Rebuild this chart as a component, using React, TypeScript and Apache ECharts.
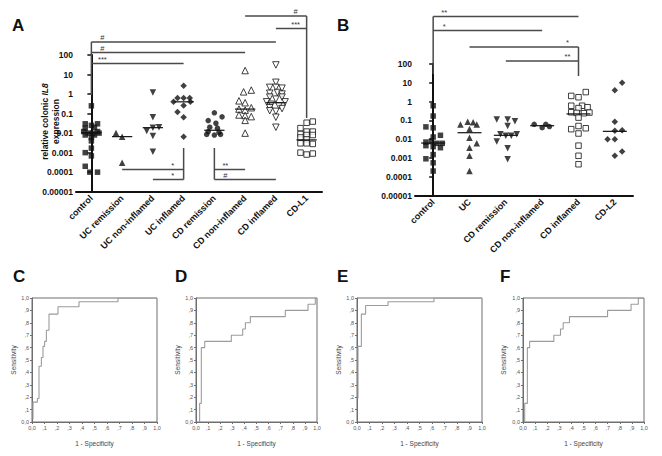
import React, { useEffect, useRef } from 'react';
import * as echarts from 'echarts';

// ---------- categories & tick labels ----------
const catsA = ['control', 'UC remission', 'UC non-inflamed', 'UC inflamed', 'CD remission', 'CD non-inflamed', 'CD inflamed', 'CD-L1'];
const catsB = ['control', 'UC', 'CD remission', 'CD non-inflamed', 'CD inflamed', 'CD-L2'];
const logTickLabels = ['0.00001', '0.0001', '0.001', '0.01', '0.1', '1', '10', '100'];
const rocTickLabels = ['0,0', ',1', ',2', ',3', ',4', ',5', ',6', ',7', ',8', ',9', '1,0'];

// ---------- Panel A: [offset within category, relative IL8 expression] ----------
const aControl = [[0, 0.25], [-0.2, 0.03], [0.2, 0.03], [0, 0.025], [-0.2, 0.018], [0.1, 0.02], [-0.25, 0.012], [0.2, 0.012], [-0.1, 0.01], [0.05, 0.01], [0.25, 0.01], [-0.2, 0.008], [0.1, 0.008], [0, 0.006], [0, 0.004], [0, 0.0017], [-0.2, 0.001], [0, 0.00068], [-0.2, 0.0002], [-0.05, 0.0001], [0.2, 0.0001]];
const aUCrem = [[-0.2, 0.01], [0, 0.0066], [0, 0.0003]];
const aUCnon = [[0, 1.2], [0, 0.064], [-0.2, 0.013], [0, 0.019], [0.2, 0.02], [0, 0.0071], [0, 0.0011]];
const aUCinf = [[0, 2.7], [-0.2, 0.62], [0, 0.62], [0.2, 0.62], [-0.33, 0.4], [0.22, 0.4], [0, 0.26], [-0.2, 0.12], [0, 0.065], [0, 0.0066]];
const aCDrem = [[0, 0.11], [0.25, 0.068], [-0.2, 0.044], [0.05, 0.032], [-0.15, 0.02], [0.1, 0.018], [-0.2, 0.012], [0.15, 0.011], [-0.25, 0.0085], [0, 0.008], [0.2, 0.0085]];
const aCDnon = [[0, 16], [-0.05, 1.3], [0.2, 1.6], [-0.2, 0.45], [0, 0.36], [0.2, 0.2], [-0.2, 0.17], [0, 0.15], [-0.2, 0.085], [0, 0.08], [0.2, 0.07], [0, 0.045], [0, 0.01]];
const aCDinf = [[0, 31], [0, 4], [-0.2, 2.2], [0, 2.2], [0.2, 2.0], [-0.2, 1.1], [0.05, 1.2], [0.2, 1.0], [-0.2, 0.7], [0.2, 0.7], [0, 0.55], [-0.3, 0.4], [0.3, 0.4], [-0.15, 0.3], [0.1, 0.25], [-0.2, 0.2], [0.2, 0.18], [0, 0.13], [-0.2, 0.14], [0, 0.065], [0, 0.02]];
const aCDL1 = [[0, 0.034], [0.2, 0.039], [-0.2, 0.018], [0, 0.012], [0.2, 0.012], [-0.2, 0.009], [0, 0.008], [0.2, 0.008], [-0.2, 0.006], [0, 0.0048], [-0.2, 0.003], [0, 0.003], [0.2, 0.0028], [-0.2, 0.001], [0, 0.0008], [0.2, 0.0009]];
const mediansA = [0.0105, 0.0066, 0.019, 0.4, 0.014, 0.17, 0.36, 0.0045];

// ---------- Panel B ----------
const bControl = [[0, 0.6], [0, 0.17], [-0.2, 0.045], [0, 0.04], [0.2, 0.016], [0, 0.013], [-0.2, 0.007], [-0.05, 0.0075], [0.1, 0.006], [0.25, 0.006], [-0.2, 0.0045], [0, 0.004], [0.2, 0.0035], [0, 0.0015], [-0.2, 0.0009], [0, 0.00055], [0, 0.0002]];
const bUC = [[-0.25, 0.06], [-0.05, 0.085], [0.1, 0.08], [0.2, 0.06], [0, 0.035], [0, 0.012], [0.2, 0.006], [0, 0.0035], [0, 0.0013], [0, 0.0002]];
const bCDrem = [[-0.25, 0.11], [0.05, 0.11], [0.25, 0.09], [0.05, 0.05], [-0.15, 0.018], [0, 0.015], [0.15, 0.015], [0.3, 0.018], [-0.25, 0.0075], [0.05, 0.0033], [0.05, 0.00085]];
const bCDnon = [[-0.22, 0.062], [0, 0.041], [0.1, 0.062], [0.2, 0.047]];
const bCDinf = [[0.2, 3.2], [-0.2, 2.0], [0, 1.7], [-0.2, 0.6], [0.1, 0.6], [0.25, 0.5], [0, 0.45], [-0.2, 0.27], [-0.05, 0.25], [0.15, 0.24], [0.3, 0.26], [0, 0.14], [-0.2, 0.034], [0, 0.05], [0.2, 0.038], [0, 0.02], [0, 0.0045], [0, 0.0013], [0, 0.00046]];
const bCDL2 = [[0.2, 10], [0, 4], [0, 0.085], [0, 0.028], [0.2, 0.03], [-0.2, 0.01], [0, 0.01], [0, 0.0013], [0.2, 0.0022]];
const mediansB = [0.0062, 0.022, 0.016, 0.052, 0.22, 0.026];

// ---------- ROC curves (1 - specificity, sensitivity) ----------
const rocC_fpr = [0.008, 0.008, 0.043, 0.056, 0.075, 0.088, 0.101, 0.115, 0.136, 0.208, 0.376, 0.688, 1.0];
const rocC_tpr = [0.02, 0.16, 0.19, 0.45, 0.52, 0.61, 0.65, 0.74, 0.87, 0.93, 0.97, 1.0, 1.0];
const rocD_fpr = [0.03, 0.03, 0.044, 0.072, 0.292, 0.386, 0.408, 0.449, 0.738, 0.926, 0.986, 1.0];
const rocD_tpr = [0.0, 0.15, 0.6, 0.65, 0.7, 0.75, 0.8, 0.85, 0.9, 0.95, 1.0, 1.0];
const rocE_fpr = [0.008, 0.008, 0.035, 0.069, 0.248, 0.616, 1.0];
const rocE_tpr = [0.19, 0.61, 0.87, 0.94, 0.97, 1.0, 1.0];
const rocF_fpr = [0.014, 0.014, 0.036, 0.055, 0.255, 0.31, 0.332, 0.384, 0.699, 0.893, 0.953, 1.0];
const rocF_tpr = [0.0, 0.15, 0.6, 0.65, 0.7, 0.75, 0.8, 0.85, 0.9, 0.95, 1.0, 1.0];

// ---------- significance annotations ----------
const sigA = [
  { from: 0, to: 6, y: 42, label: '#' },
  { from: 0, to: 5, y: 52.5, label: '#' },
  { from: 0, to: 3, y: 63.5, label: '***' },
  { from: 7, to: 5, y: 16, label: '#' },
  { from: 7, to: 6, y: 28.5, label: '***' },
  { from: 3, to: 1, y: 169.5, label: '*' },
  { from: 3, to: 2, y: 179.5, label: '*' },
  { from: 4, to: 5, y: 169.5, label: '**' },
  { from: 4, to: 6, y: 179.5, label: '#' },
];
const stemsA = [{ cat: 0, y1: 42, y2: 95 }, { cat: 7, y1: 16, y2: 118 }, { cat: 3, y1: 148, y2: 179.5 }, { cat: 4, y1: 148, y2: 179.5 }];
const sigB = [
  { from: 0, to: 4, y: 16.5, label: '**' },
  { from: 0, to: 3, y: 30.5, label: '*' },
  { from: 4, to: 1, y: 47, label: '*' },
  { from: 4, to: 2, y: 61, label: '**' },
];
const stemsB = [{ cat: 0, y1: 16.5, y2: 74 }, { cat: 4, y1: 47, y2: 76 }];

// ---------- layout / styles ----------
const FONT = 'Liberation Sans, Arial, Helvetica, sans-serif';
const gA = { left: 76, top: 55, width: 246, height: 136.7 };
const gB = { left: 415, top: 64, width: 218, height: 131.5 };
const gROC = [
  { left: 32, top: 298, width: 125, height: 124, nameGap: 15 },
  { left: 196, top: 298, width: 121, height: 124, nameGap: 14 },
  { left: 357, top: 298, width: 125, height: 124, nameGap: 14 },
  { left: 523, top: 298, width: 121, height: 124, nameGap: 16 },
];
const stylesA = [
  { symbol: 'rect', rot: 0, open: false, size: 5.5 },
  { symbol: 'triangle', rot: 0, open: false, size: 6.5 },
  { symbol: 'triangle', rot: 180, open: false, size: 6.5 },
  { symbol: 'diamond', rot: 0, open: false, size: 6.5 },
  { symbol: 'circle', rot: 0, open: false, size: 5.5 },
  { symbol: 'triangle', rot: 0, open: true, size: 6.5 },
  { symbol: 'triangle', rot: 180, open: true, size: 6.5 },
  { symbol: 'rect', rot: 0, open: true, size: 5.5 },
];
const stylesB = [
  { symbol: 'rect', rot: 0, open: false, size: 5.5 },
  { symbol: 'triangle', rot: 0, open: false, size: 6.5 },
  { symbol: 'triangle', rot: 180, open: false, size: 6.5 },
  { symbol: 'circle', rot: 0, open: false, size: 5.5 },
  { symbol: 'rect', rot: 0, open: true, size: 5.5 },
  { symbol: 'diamond', rot: 0, open: false, size: 6.5 },
];

const logFmt = (v: number) => logTickLabels[Math.round(Math.log10(v)) + 5] ?? '';
const rocFmt = (v: number) => rocTickLabels[Math.round(v * 10)] ?? '';
const catX = (g: any, n: number, i: number) => g.left + ((i + 0.5) * g.width) / n;

function dotSeries(groups: number[][][], styles: any[], xi: number, yi: number) {
  return groups.map((grp, i) => ({
    type: 'scatter',
    xAxisIndex: xi,
    yAxisIndex: yi,
    symbol: styles[i].symbol,
    symbolSize: styles[i].size,
    symbolRotate: styles[i].rot,
    itemStyle: styles[i].open ? { color: '#fff', borderColor: '#111', borderWidth: 1 } : { color: '#111' },
    data: grp.map(([o, v]) => [i + o, v]),
    z: 3,
  }));
}

function medianSeries(meds: number[], xi: number, yi: number) {
  return {
    type: 'custom',
    xAxisIndex: xi,
    yAxisIndex: yi,
    z: 4,
    data: meds.map((v, i) => [i, v]),
    renderItem: (_p: any, api: any) => {
      const i = api.value(0);
      const v = api.value(1);
      const a = api.coord([i - 0.33, v]);
      const b = api.coord([i + 0.33, v]);
      return { type: 'line', shape: { x1: a[0], y1: a[1], x2: b[0], y2: b[1] }, style: { stroke: '#111', lineWidth: 1.2 } };
    },
  };
}

function sigGraphics(sigs: any[], stems: any[], g: any, n: number) {
  const out: any[] = [];
  const line = (x1: number, y1: number, x2: number, y2: number) => ({
    type: 'line', shape: { x1, y1, x2, y2 }, style: { stroke: '#4a4a4a', lineWidth: 1.5 }, z: 10,
  });
  stems.forEach((s) => {
    const x = catX(g, n, s.cat);
    out.push(line(x, s.y1, x, s.y2));
  });
  sigs.forEach((s) => {
    const x1 = catX(g, n, s.from);
    const x2 = catX(g, n, s.to);
    out.push(line(x1, s.y, x2, s.y));
    const dir = Math.sign(x2 - x1);
    out.push({
      type: 'text', x: x1 + dir * 11, y: s.y - 0.5, z: 10,
      style: { text: s.label, fontSize: 7.5, fontFamily: FONT, fill: '#333', align: 'center', verticalAlign: 'bottom' },
    });
  });
  return out;
}

function letter(t: string, x: number, y: number) {
  return { type: 'text', x, y, style: { text: t, fontSize: 17, fontWeight: 'bold', fontFamily: FONT, fill: '#111', align: 'left', verticalAlign: 'middle' } };
}

// rotated y-axis title of panel A (plain text pieces, rotated 90° counter-clockwise)
function yTitleA() {
  const fs = 8.5;
  const base = { fontSize: fs, fontWeight: 'bold', fontFamily: FONT, fill: '#111', verticalAlign: 'middle' };
  const cx = 50.5;
  const cy = 121.5;
  const w1 = 7.559 * fs; // "relative colonic "
  const w2 = 1.445 * fs; // "IL8"
  const start = cy + (w1 + w2) / 2;
  return [
    { type: 'text', x: cx - 5.5, y: start, rotation: Math.PI / 2, z: 20, style: { ...base, text: 'relative colonic ', align: 'left' } },
    { type: 'text', x: cx - 5.5, y: start - w1, rotation: Math.PI / 2, z: 20, style: { ...base, text: 'IL8', fontStyle: 'italic', align: 'left' } },
    { type: 'text', x: cx + 5.5, y: cy, rotation: Math.PI / 2, z: 20, style: { ...base, text: 'expression', align: 'center' } },
  ];
}

export default function App() {
  const ref = useRef<HTMLDivElement>(null);
  useEffect(() => {
    if (!ref.current) return;
    const chart = echarts.init(ref.current, undefined, { renderer: 'svg' });

    const catAxis = (gi: number, data: string[]) => ({
      type: 'category', gridIndex: gi, data,
      axisLine: { lineStyle: { color: '#111', width: 2 } },
      axisTick: { show: false },
      axisLabel: { rotate: 45, interval: 0, fontSize: 9, fontWeight: 'bold', color: '#111', margin: 5, fontFamily: FONT },
      splitLine: { show: false },
    });
    const logAxis = (gi: number) => ({
      type: 'log', gridIndex: gi, logBase: 10, min: 0.00001, max: 100, splitNumber: 7,
      axisLine: { show: true, lineStyle: { color: '#111', width: 2 } },
      axisTick: { show: true, length: 4, lineStyle: { color: '#111', width: 1.5 } },
      minorTick: { show: false },
      axisLabel: { fontSize: 8.5, fontWeight: 'bold', color: '#111', margin: 3, fontFamily: FONT, formatter: logFmt },
      splitLine: { show: false },
    });
    const rocX = (gi: number) => ({
      type: 'value', gridIndex: gi, min: 0, max: 1, interval: 0.1,
      name: '1 - Specificity', nameLocation: 'middle', nameGap: 18,
      nameTextStyle: { fontSize: 6.5, color: '#444', fontFamily: FONT },
      axisLine: { lineStyle: { color: '#6f6f6f', width: 1 } },
      axisTick: { show: true, length: 2, lineStyle: { color: '#6f6f6f' } },
      axisLabel: { fontSize: 5.5, color: '#555', margin: 3, fontFamily: FONT, formatter: rocFmt },
      splitLine: { show: false },
    });
    const rocY = (gi: number, gap: number) => ({
      type: 'value', gridIndex: gi, min: 0, max: 1, interval: 0.1,
      name: 'Sensitivity', nameLocation: 'middle', nameGap: gap, nameRotate: 90,
      nameTextStyle: { fontSize: 6.5, color: '#444', fontFamily: FONT },
      axisLine: { lineStyle: { color: '#6f6f6f', width: 1 } },
      axisTick: { show: true, length: 2, lineStyle: { color: '#6f6f6f' } },
      axisLabel: { fontSize: 5.5, color: '#555', margin: 3, fontFamily: FONT, formatter: rocFmt },
      splitLine: { show: false },
    });

    const rocSets = [
      [rocC_fpr, rocC_tpr],
      [rocD_fpr, rocD_tpr],
      [rocE_fpr, rocE_tpr],
      [rocF_fpr, rocF_tpr],
    ];

    const grids: any[] = [
      { ...gA, outerBoundsMode: 'none' },
      { ...gB, outerBoundsMode: 'none' },
      ...gROC.map((g) => ({ left: g.left, top: g.top, width: g.width, height: g.height, show: true, borderColor: '#6f6f6f', borderWidth: 1, backgroundColor: 'transparent', outerBoundsMode: 'none' })),
    ];

    const xAxes: any[] = [
      catAxis(0, catsA),
      { type: 'value', gridIndex: 0, min: -0.5, max: 7.5, show: false },
      catAxis(1, catsB),
      { type: 'value', gridIndex: 1, min: -0.5, max: 5.5, show: false },
      ...gROC.map((_g, k) => rocX(k + 2)),
    ];
    const yAxes: any[] = [logAxis(0), logAxis(1), ...gROC.map((g, k) => rocY(k + 2, g.nameGap))];

    const series: any[] = [
      ...dotSeries([aControl, aUCrem, aUCnon, aUCinf, aCDrem, aCDnon, aCDinf, aCDL1], stylesA, 1, 0),
      medianSeries(mediansA, 1, 0),
      ...dotSeries([bControl, bUC, bCDrem, bCDnon, bCDinf, bCDL2], stylesB, 3, 1),
      medianSeries(mediansB, 3, 1),
      ...rocSets.map(([fx, ty], k) => ({
        type: 'line', xAxisIndex: k + 4, yAxisIndex: k + 2, step: 'end', symbol: 'none',
        lineStyle: { color: '#9c9c9c', width: 1.1 },
        data: fx.map((x, i) => [x, ty[i]]),
      })),
    ];

    const graphic: any[] = [
      letter('A', 12, 25),
      letter('B', 337, 25),
      letter('C', 13, 276),
      letter('D', 175, 276),
      letter('E', 337, 276),
      letter('F', 500, 276),
      ...yTitleA(),
      ...sigGraphics(sigA, stemsA, gA, catsA.length),
      ...sigGraphics(sigB, stemsB, gB, catsB.length),
    ];

    chart.setOption({
      animation: false,
      backgroundColor: '#fff',
      textStyle: { fontFamily: FONT },
      grid: grids,
      xAxis: xAxes,
      yAxis: yAxes,
      series,
      graphic,
    });
    return () => chart.dispose();
  }, []);
  return <div ref={ref} style={{ position: 'absolute', left: 0, top: 0, width: 662, height: 456 }} />;
}
